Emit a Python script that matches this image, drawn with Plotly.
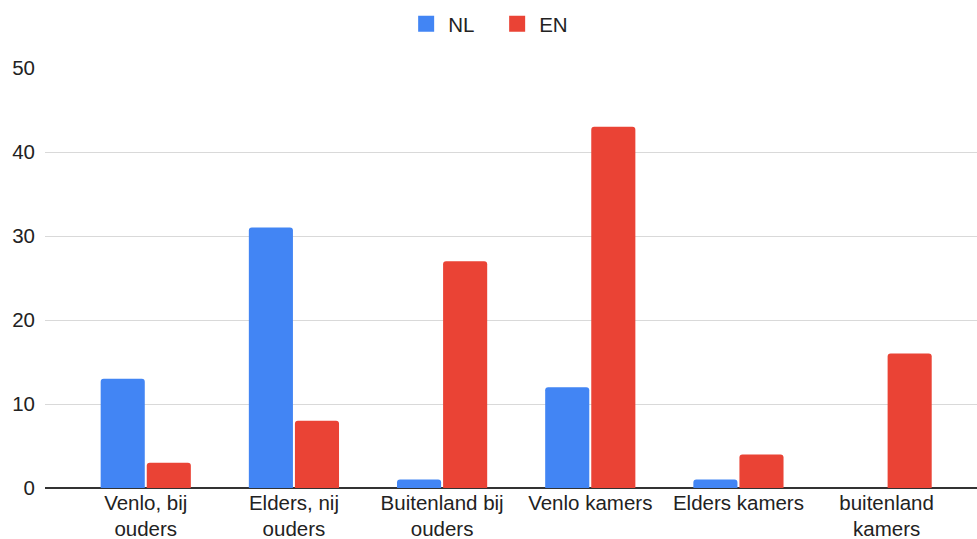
import plotly.graph_objects as go

categories = [
    "Venlo, bij<br>ouders",
    "Elders, nij<br>ouders",
    "Buitenland bij<br>ouders",
    "Venlo kamers",
    "Elders kamers",
    "buitenland<br>kamers",
]
nl_values = [13, 31, 1, 12, 1, 0]
en_values = [3, 8, 27, 43, 4, 16]

FONT = "Liberation Sans, Arial, sans-serif"
COLORS = {"NL": "#4285f4", "EN": "#ea4335"}

fig = go.Figure()
for name, vals in (("NL", nl_values), ("EN", en_values)):
    fig.add_trace(go.Bar(
        x=categories, y=vals, name=name, legendgroup=name, showlegend=False,
        marker=dict(color=COLORS[name], cornerradius=3, line=dict(width=0)),
    ))

# larger square swatches for the legend
for name in ("NL", "EN"):
    fig.add_trace(go.Scatter(
        x=[categories[0]], y=[None], mode="markers", name=name, legendgroup=name,
        marker=dict(symbol="square", size=16, color=COLORS[name]),
    ))

fig.update_layout(
    width=977, height=539,
    margin=dict(l=45, r=0, t=68, b=51, autoexpand=False),
    paper_bgcolor="white",
    plot_bgcolor="white",
    font=dict(family=FONT, size=20.5, color="#222222"),
    barmode="group",
    bargap=0.378,
    bargroupgap=0.043,
    showlegend=True,
    legend=dict(
        orientation="h", x=0.483, xanchor="center", y=1.105, yanchor="middle",
        font=dict(size=20.5, color="#222222"),
        itemwidth=34,
        entrywidth=42,
    ),
    xaxis=dict(
        range=[-0.68, 5.61],
        showgrid=False,
        showline=False,
        ticks="",
        automargin=False,
        tickfont=dict(size=20.5, color="#222222"),
    ),
    yaxis=dict(
        range=[0, 50],
        tickvals=[0, 10, 20, 30, 40, 50],
        showgrid=True,
        gridcolor="#d9d9d9",
        gridwidth=1,
        zeroline=True,
        zerolinecolor="#333333",
        zerolinewidth=1.5,
        showline=False,
        ticks="",
        automargin=False,
        ticklabelstandoff=9,
        tickfont=dict(size=20.5, color="#222222"),
    ),
)

# drop the default 8px body margin so the figure fills the window exactly
fig.write_html(
    "out.html",
    config={"displayModeBar": False},
    post_script="document.body.style.margin='0';",
)
